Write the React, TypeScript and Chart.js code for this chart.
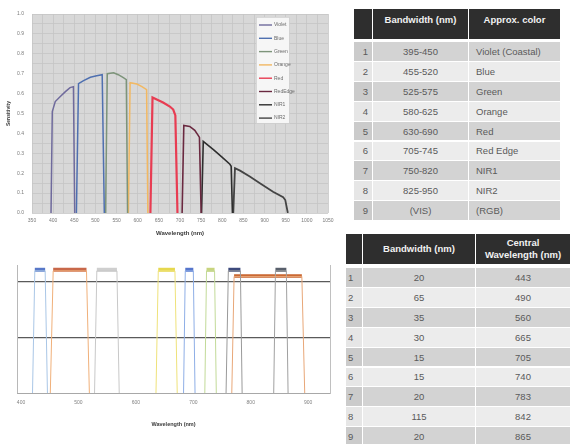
import React, { useEffect, useRef } from 'react';
import { Chart, registerables } from 'chart.js';

Chart.register(...registerables);

const FONT = '"Liberation Sans", Arial, sans-serif';

// ---------- Top chart: band sensitivity ----------
const bandNames = ['Violet', 'Blue', 'Green', 'Orange', 'Red', 'RedEdge', 'NIR1', 'NIR2'];
const violetWl = [395, 398, 405, 417, 429, 440, 448, 451];
const violetSens = [0, 0.51, 0.56, 0.585, 0.61, 0.63, 0.635, 0];
const blueWl = [455, 460, 472, 488, 503, 516, 521];
const blueSens = [0, 0.65, 0.665, 0.682, 0.69, 0.695, 0];
const greenWl = [524, 528, 543, 554, 566, 573, 576];
const greenSens = [0, 0.70, 0.705, 0.695, 0.68, 0.67, 0];
const orangeWl = [578, 582, 598, 610, 621, 624];
const orangeSens = [0, 0.655, 0.648, 0.635, 0.62, 0];
const redWl = [630, 635, 645, 660, 676, 684, 689, 694];
const redSens = [0, 0.58, 0.57, 0.555, 0.535, 0.52, 0.49, 0];
const redEdgeWl = [705, 709, 723, 735, 743, 746, 750];
const redEdgeSens = [0, 0.44, 0.435, 0.415, 0.39, 0.38, 0];
const nir1Wl = [751, 755, 779, 798, 818, 821, 824];
const nir1Sens = [0, 0.36, 0.318, 0.283, 0.245, 0.235, 0];
const nir2Wl = [826, 830, 842, 865, 889, 920, 944, 949, 955];
const nir2Sens = [0, 0.225, 0.213, 0.183, 0.15, 0.107, 0.079, 0.065, 0];

const topColors = ['#6f6a9c', '#4f70b0', '#7d947a', '#f2b862', '#e83c52', '#6a2940', '#2e2e2e', '#444444'];
const topWidths = [1.5, 1.5, 1.5, 1.5, 2.2, 1.6, 1.6, 1.8];

// ---------- Bottom chart: band filters ----------
const fStart = [424, 456, 532, 639, 686, 723, 761, 771, 843];
const fEnd = [442, 514, 567, 668, 700, 737, 782, 889, 862];
const fLowStart = [420, 451, 528, 635, 683, 720, 757, 767, 840];
const fLowEnd = [446, 519, 571, 672, 703, 740, 785, 894, 865];
const fTop = [1.1, 1.1, 1.1, 1.1, 1.1, 1.1, 1.1, 1.05, 1.1];
const fBarLevel = [1.11, 1.11, 1.11, 1.11, 1.11, 1.11, 1.11, 1.054, 1.11];
const fOutlineColors = ['#a9c6e6', '#f0b07a', '#c8c8c8', '#efe27a', '#8eaee6', '#c2da98', '#9a9a9a', '#e8a778', '#a0a0a0'];
const fBarColors = ['#5878c8', '#c8684a', '#cfcfcf', '#e6d84e', '#5676cc', '#c8d47e', '#3d4a7c', '#c8642e', '#59606c'];

// ---------- Tables ----------
const t1Index = ['1', '2', '3', '4', '5', '6', '7', '8', '9'];
const t1Bandwidth = ['395-450', '455-520', '525-575', '580-625', '630-690', '705-745', '750-820', '825-950', '(VIS)'];
const t1Color = ['Violet (Coastal)', 'Blue', 'Green', 'Orange', 'Red', 'Red Edge', 'NIR1', 'NIR2', '(RGB)'];
const t2Index = ['1', '2', '3', '4', '5', '6', '7', '8', '9'];
const t2Bandwidth = ['20', '65', '35', '30', '15', '15', '20', '115', '20'];
const t2Central = ['443', '490', '560', '665', '705', '740', '783', '842', '865'];

const topSeriesWl = [violetWl, blueWl, greenWl, orangeWl, redWl, redEdgeWl, nir1Wl, nir2Wl];
const topSeriesSens = [violetSens, blueSens, greenSens, orangeSens, redSens, redEdgeSens, nir1Sens, nir2Sens];

const plotBgPlugin = {
  id: 'plotBg',
  beforeDraw(chart: any) {
    const { ctx, chartArea } = chart;
    ctx.save();
    ctx.fillStyle = '#d8d8d8';
    ctx.fillRect(chartArea.left, chartArea.top, chartArea.right - chartArea.left, chartArea.bottom - chartArea.top);
    ctx.restore();
  },
};

const boxLegendPlugin = {
  id: 'boxLegend',
  afterDraw(chart: any) {
    const { ctx } = chart;
    const x = 256, y = 17, w = 33, h = 106;
    ctx.save();
    ctx.fillStyle = '#f6f6f6';
    ctx.fillRect(x, y, w, h);
    ctx.strokeStyle = '#d0d0d0';
    ctx.lineWidth = 0.8;
    ctx.strokeRect(x + 0.5, y + 0.5, w, h);
    chart.data.datasets.forEach((ds: any, i: number) => {
      const cy = y + 8 + i * 13.3;
      ctx.strokeStyle = ds.borderColor;
      ctx.lineWidth = 1.4;
      ctx.beginPath();
      ctx.moveTo(x + 3, cy);
      ctx.lineTo(x + 16, cy);
      ctx.stroke();
      ctx.fillStyle = '#6a6a6a';
      ctx.font = '5px ' + FONT;
      ctx.textBaseline = 'middle';
      ctx.textAlign = 'left';
      ctx.fillText(ds.label, x + 18, cy);
    });
    ctx.restore();
  },
};

function TopChart() {
  const ref = useRef<HTMLCanvasElement>(null);
  useEffect(() => {
    const chart = new Chart(ref.current as HTMLCanvasElement, {
      type: 'line',
      data: {
        datasets: bandNames.map((name, i) => ({
          label: name,
          data: topSeriesWl[i].map((x, j) => ({ x, y: topSeriesSens[i][j] })),
          borderColor: topColors[i],
          backgroundColor: topColors[i],
          borderWidth: topWidths[i],
          pointRadius: 0,
          tension: 0,
          fill: false,
        })),
      },
      options: {
        animation: false,
        responsive: false,
        layout: { padding: { left: 0, top: 14, right: 17, bottom: 0 } },
        plugins: { legend: { display: false }, tooltip: { enabled: false } },
        scales: {
          x: {
            type: 'linear',
            min: 350,
            max: 1050,
            ticks: {
              stepSize: 25,
              autoSkip: false,
              maxRotation: 0,
              padding: 5,
              color: '#7a7a7a',
              font: { size: 5, family: FONT },
              callback: (v: any) => (Math.round(v) % 50 === 0 ? String(Math.round(v)) : ''),
            },
            grid: { color: '#c5c5c5', lineWidth: 0.8, drawTicks: false },
            border: { display: false },
            title: {
              display: true,
              text: 'Wavelength (nm)',
              color: '#3a3a3a',
              font: { size: 6, weight: 'bold', family: FONT },
              padding: { top: 0, bottom: 3 },
            },
            afterFit: (s: any) => { s.height = 27; },
          },
          y: {
            min: 0,
            max: 1,
            ticks: {
              stepSize: 0.05,
              autoSkip: false,
              padding: 8,
              color: '#7a7a7a',
              font: { size: 5, family: FONT },
              callback: (v: any) => (Math.round(v * 100) % 10 === 0 ? Number(v).toFixed(1) : ''),
            },
            grid: { color: '#c5c5c5', lineWidth: 0.8, drawTicks: false },
            border: { display: false },
            title: {
              display: true,
              text: 'Sensitivity',
              color: '#3a3a3a',
              font: { size: 5, weight: 'bold', family: FONT },
              padding: { top: 6, bottom: 0 },
            },
            afterFit: (s: any) => { s.width = 32; },
          },
        },
      } as any,
      plugins: [plotBgPlugin, boxLegendPlugin],
    });
    return () => chart.destroy();
  }, []);
  return (
    <canvas ref={ref} width={345} height={240}
      style={{ position: 'absolute', left: 0, top: 0, width: 345, height: 240 }} />
  );
}

function BottomChart() {
  const ref = useRef<HTMLCanvasElement>(null);
  useEffect(() => {
    const outlines = fStart.map((s, i) => ({
      label: 'Band ' + (i + 1),
      data: [
        { x: fLowStart[i], y: 0 },
        { x: s, y: fTop[i] },
        { x: fEnd[i], y: fTop[i] },
        { x: fLowEnd[i], y: 0 },
      ],
      borderColor: fOutlineColors[i],
      borderWidth: 1,
      pointRadius: 0,
      tension: 0,
      fill: false,
    }));
    const bars = fStart.map((s, i) => ({
      label: 'Band ' + (i + 1) + ' range',
      data: [
        { x: s, y: fBarLevel[i] },
        { x: fEnd[i], y: fBarLevel[i] },
      ],
      borderColor: fBarColors[i],
      borderWidth: i === 7 ? 3.5 : 4,
      borderCapStyle: 'butt',
      pointRadius: 0,
      tension: 0,
      fill: false,
    }));
    const chart = new Chart(ref.current as HTMLCanvasElement, {
      type: 'line',
      data: { datasets: [...outlines, ...bars] as any },
      options: {
        animation: false,
        responsive: false,
        layout: { padding: { left: 0, top: 10, right: 10, bottom: 0 } },
        plugins: { legend: { display: false }, tooltip: { enabled: false } },
        scales: {
          x: {
            type: 'linear',
            min: 393,
            max: 938,
            afterBuildTicks: (s: any) => {
              s.ticks = [400, 500, 600, 700, 800, 900].map((v) => ({ value: v }));
            },
            ticks: {
              autoSkip: false,
              maxRotation: 0,
              padding: 7,
              color: '#808080',
              font: { size: 5, family: FONT },
            },
            grid: { display: false, drawTicks: false },
            border: { display: true, color: '#a8a8a8', width: 1 },
            title: {
              display: true,
              text: 'Wavelength (nm)',
              color: '#3a3a3a',
              font: { size: 5.5, weight: 'bold', family: FONT },
              padding: { top: 0, bottom: 12.5 },
            },
            afterFit: (s: any) => { s.height = 47; },
          },
          y: {
            min: 0,
            max: 1.153,
            afterBuildTicks: (s: any) => {
              s.ticks = [0, 0.5, 1].map((v) => ({ value: v }));
            },
            ticks: { display: false },
            grid: {
              drawTicks: false,
              color: (c: any) => (c.tick && c.tick.value === 0 ? 'rgba(0,0,0,0)' : '#5a5a5a'),
              lineWidth: 1.3,
            },
            border: { display: true, color: '#b8b8b8', width: 1 },
            afterFit: (s: any) => { s.width = 17; },
          },
          y2: {
            position: 'right',
            min: 0,
            max: 1.153,
            ticks: { display: false },
            grid: { display: false, drawTicks: false },
            border: { display: true, color: '#c0c0c0', width: 1 },
            afterFit: (s: any) => { s.width = 0; },
          },
        },
      } as any,
    });
    return () => chart.destroy();
  }, []);
  return (
    <canvas ref={ref} width={340} height={185}
      style={{ position: 'absolute', left: 0, top: 255, width: 340, height: 185 }} />
  );
}

type TableProps = {
  left: number;
  top: number;
  widths: number[];
  headerH: number;
  headerGap: number;
  rowPitch: number;
  headers: React.ReactNode[];
  headerTop?: boolean;
  columns: string[][];
  aligns: ('left' | 'center' | 'right')[];
  pads: number[];
};

function DataTable(p: TableProps) {
  const x0 = p.widths.map((_, i) => p.widths.slice(0, i).reduce((a, b) => a + b + 1, 0));
  const rowsCount = p.columns[0].length;
  const cells: React.ReactNode[] = [];
  p.headers.forEach((h, c) => {
    cells.push(
      <div key={'h' + c} style={{
        position: 'absolute', left: x0[c], top: 0, width: p.widths[c], height: p.headerH,
        background: '#2e2e2e', color: '#f2f2f2', fontWeight: 'bold', fontSize: 9.5,
        display: 'flex', flexDirection: 'column', justifyContent: p.headerTop ? 'flex-start' : 'center',
        alignItems: 'center', textAlign: 'center', lineHeight: '12px',
        paddingTop: p.headerTop ? 5 : 0, boxSizing: 'border-box',
      }}>{h}</div>
    );
  });
  for (let r = 0; r < rowsCount; r++) {
    const odd = r % 2 === 0;
    const topY = p.headerH + p.headerGap + r * p.rowPitch;
    p.columns.forEach((col, c) => {
      const bg = c === 0 ? (odd ? '#cbcbcb' : '#e6e6e6') : (odd ? '#d3d3d3' : '#ececec');
      cells.push(
        <div key={r + '-' + c} style={{
          position: 'absolute', left: x0[c], top: topY, width: p.widths[c], height: p.rowPitch - 1,
          background: bg, color: '#5a5a5a', fontSize: 9.5,
          display: 'flex', alignItems: 'center',
          justifyContent: p.aligns[c] === 'left' ? 'flex-start' : p.aligns[c] === 'right' ? 'flex-end' : 'center',
          paddingLeft: p.aligns[c] === 'left' ? p.pads[c] : 0,
          paddingRight: p.aligns[c] === 'right' ? p.pads[c] : 0,
          boxSizing: 'border-box', whiteSpace: 'nowrap',
        }}>{col[r]}</div>
      );
    });
  }
  return (
    <div style={{ position: 'absolute', left: p.left, top: p.top, fontFamily: FONT }}>
      {cells}
    </div>
  );
}

export default function App() {
  return (
    <div style={{ position: 'absolute', left: 0, top: 0, width: 574, height: 444, background: '#ffffff', overflow: 'hidden', fontFamily: FONT }}>
      <TopChart />
      <BottomChart />
      <DataTable
        left={354} top={9} widths={[18, 95, 91]} headerH={30} headerGap={3} rowPitch={19.9}
        headers={['', 'Bandwidth (nm)', 'Approx. color']} headerTop
        columns={[t1Index, t1Bandwidth, t1Color]}
        aligns={['right', 'center', 'left']} pads={[4, 0, 7]}
      />
      <DataTable
        left={346} top={234} widths={[16, 112, 94]} headerH={30} headerGap={4} rowPitch={19.9}
        headers={['', 'Bandwidth (nm)', <span key="c">Central<br />Wavelength (nm)</span>]}
        columns={[t2Index, t2Bandwidth, t2Central]}
        aligns={['left', 'center', 'center']} pads={[2, 0, 0]}
      />
    </div>
  );
}
